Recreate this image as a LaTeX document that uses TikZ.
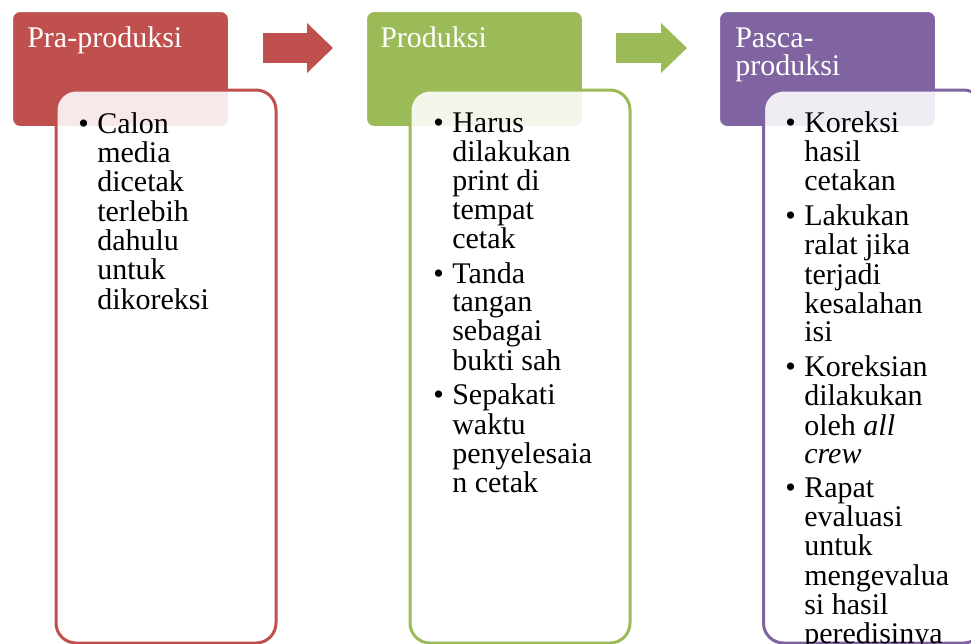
\documentclass[tikz,border=0pt]{standalone}
\usepackage{fontspec}
\setmainfont{Liberation Serif}
\usetikzlibrary{arrows.meta}
\definecolor{pred}{HTML}{C0504D}
\definecolor{pgreen}{HTML}{9BBB59}
\definecolor{ppurple}{HTML}{8064A2}

\begin{document}
\begin{tikzpicture}[x=.75pt,y=-.75pt,line width=.45pt,
  head/.style={draw=white,line width=1.5pt,fill=#1,rounded corners=6pt,minimum width=162.75pt,minimum height=87pt,anchor=north west,inner sep=0},
  body/.style={draw=#1,line width=2.25pt,fill=white,fill opacity=.88,rounded corners=15pt,minimum width=165pt,minimum height=414.75pt,anchor=north west,inner sep=0},
  headtxt/.style={text=white,anchor=base west,inner sep=0,text width=150pt,align=left,font=\fontsize{22.5pt}{21.3pt}\selectfont},
  bodytxt/.style={anchor=base west,inner sep=0,font=\fontsize{22.5pt}{21.3pt}\selectfont},
  blk/.style={draw=#1,line width=22.5pt,-{Triangle[length=19.5pt,width=37.5pt,line width=0pt]}}]
\useasboundingbox (0,0) rectangle (971,643);
% headers
\node[head=pred] (pra) at (11,10) {};
\node[head=pgreen] (prod) at (365,10) {};
\node[head=ppurple] (pasca) at (718,10) {};
% bodies
\node[body=pred] (prab) at (54.5,88.5) {};
\node[body=pgreen] (prodb) at (408.5,88.5) {};
\node[body=ppurple] (pascab) at (762,88.5) {};
% arrows
\coordinate (a1s) at (263,48);
\coordinate (a1e) at (333,48);
\coordinate (a2s) at (616,48);
\coordinate (a2e) at (687,48);
\draw[blk=pred] (a1s) -- (a1e);
\draw[blk=pgreen] (a2s) -- (a2e);
% texts
\node[headtxt] (pratxt) at (27,47) {Pra-produksi};
\node[headtxt] (prodtxt) at (380,47) {Produksi};
\node[headtxt] (pascatxt) at (735,47) {Pasca-\\produksi};
\node[bodytxt] (prabtxt) at (78,133) {\begin{tabular}[t]{@{}p{14.25pt}@{}l@{}}
\textbullet & Calon\\ & media\\ & dicetak\\ & terlebih\\ & dahulu\\ & untuk\\ & dikoreksi
\end{tabular}};
\node[bodytxt] (prodbtxt) at (433,132) {\begin{tabular}[t]{@{}p{14.25pt}@{}l@{}}
\textbullet & Harus\\ & dilakukan\\ & print di\\ & tempat\\ & cetak\\[4pt]
\textbullet & Tanda\\ & tangan\\ & sebagai\\ & bukti sah\\[4pt]
\textbullet & Sepakati\\ & waktu\\ & penyelesaia\\ & n cetak
\end{tabular}};
\node[bodytxt] (pascabtxt) at (785,132) {\begin{tabular}[t]{@{}p{14.25pt}@{}l@{}}
\textbullet & Koreksi\\ & hasil\\ & cetakan\\[4pt]
\textbullet & Lakukan\\ & ralat jika\\ & terjadi\\ & kesalahan\\ & isi\\[4pt]
\textbullet & Koreksian\\ & dilakukan\\ & oleh \textit{all}\\ & \textit{crew}\\[4pt]
\textbullet & Rapat\\ & evaluasi\\ & untuk\\ & mengevalua\\ & si hasil\\ & peredisinya
\end{tabular}};
\end{tikzpicture}
\end{document}
